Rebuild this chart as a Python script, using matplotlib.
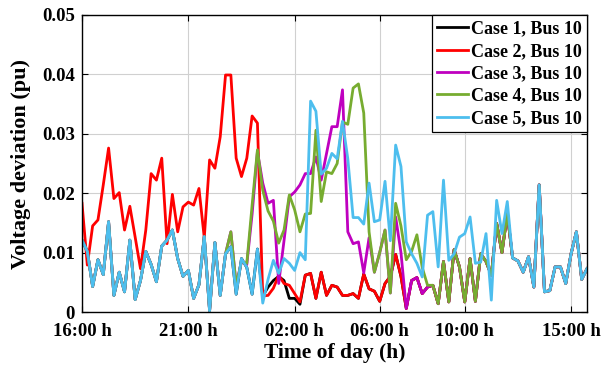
import matplotlib
matplotlib.use("Agg")
import matplotlib.pyplot as plt
import numpy as np

plt.rcParams['font.family'] = ['Liberation Serif', 'DejaVu Serif']
plt.rcParams['font.weight'] = 'bold'

# 15 min steps from 16:00 h to 15:45 h next day (hours after 16:00)
hours = np.arange(96) * 0.25

tick_hours = [0, 5, 10, 14, 18, 23]
tick_labels = ['16:00 h', '21:00 h', '02:00 h', '06:00 h', '10:00 h', '15:00 h']

# Case 5 runs over the whole day, the other cases share its values outside their own windows
case5 = [0.0121, 0.0102, 0.0043, 0.0088, 0.0063, 0.0152, 0.0028, 0.0067, 0.0034, 0.0121,
         0.0021, 0.0053, 0.0102, 0.0080, 0.0051, 0.0111, 0.0121, 0.0138, 0.0090, 0.0060,
         0.0070, 0.0023, 0.0046, 0.0127, 0.0002, 0.0117, 0.0028, 0.0098, 0.0110, 0.0030,
         0.0090, 0.0075, 0.0030, 0.0106, 0.0015, 0.0055, 0.0087, 0.0065, 0.0090, 0.0082,
         0.0070, 0.0100, 0.0088, 0.0355, 0.0338, 0.0232, 0.0242, 0.0267, 0.0258, 0.0321,
         0.0258, 0.0159, 0.0159, 0.0148, 0.0217, 0.0152, 0.0155, 0.0220, 0.0120, 0.0281,
         0.0245, 0.0118, 0.0098, 0.0082, 0.0059, 0.0163, 0.0169, 0.0076, 0.0222, 0.0087,
         0.0098, 0.0126, 0.0132, 0.0160, 0.0082, 0.0084, 0.0132, 0.0020, 0.0188, 0.0132,
         0.0186, 0.0091, 0.0086, 0.0067, 0.0093, 0.0042, 0.0214, 0.0034, 0.0036, 0.0076,
         0.0076, 0.0048, 0.0098, 0.0135, 0.0055, 0.0073]

# Case 4: 22:45 h .. 11:00 h (index 27..80)
case4_mid = [0.0098, 0.0135, 0.0045, 0.0085, 0.0082, 0.0180, 0.0273, 0.0205, 0.0170, 0.0153,
             0.0116, 0.0138, 0.0197, 0.0172, 0.0135, 0.0165, 0.0166, 0.0306, 0.0186, 0.0236,
             0.0233, 0.0250, 0.0320, 0.0316, 0.0377, 0.0384, 0.0335, 0.0135, 0.0067, 0.0100,
             0.0138, 0.0032, 0.0183, 0.0145, 0.0088, 0.0102, 0.0130, 0.0075, 0.0045, 0.0045,
             0.0014, 0.0085, 0.0017, 0.0105, 0.0076, 0.0017, 0.0090, 0.0018, 0.0098, 0.0085,
             0.0062, 0.0149, 0.0100, 0.0166]
case4 = case5[:27] + case4_mid + case5[81:]

# Case 3: index 31..54 and 59..65
case3_a = [0.0080, 0.0165, 0.0270, 0.0217, 0.0183, 0.0188, 0.0048, 0.0120, 0.0194, 0.0202,
           0.0214, 0.0233, 0.0233, 0.0261, 0.0222, 0.0267, 0.0312, 0.0312, 0.0374, 0.0135,
           0.0115, 0.0118, 0.0066, 0.0125]
case3_b = [0.0160, 0.0100, 0.0006, 0.0053, 0.0058, 0.0031, 0.0042]
case3 = case4[:31] + case3_a + case4[55:59] + case3_b + case4[66:]

# Case 2: index 0..60
case2_own = [0.0183, 0.0079, 0.0145, 0.0155, 0.0214, 0.0276, 0.0191, 0.0201, 0.0138, 0.0178,
             0.0126, 0.0073, 0.0138, 0.0233, 0.0222, 0.0259, 0.0115, 0.0198, 0.0135, 0.0177,
             0.0185, 0.0180, 0.0208, 0.0125, 0.0256, 0.0242, 0.0295, 0.0399, 0.0399, 0.0259,
             0.0228, 0.0259, 0.0330, 0.0318, 0.0027, 0.0028, 0.0040, 0.0062, 0.0048, 0.0045,
             0.0031, 0.0017, 0.0062, 0.0065, 0.0023, 0.0067, 0.0028, 0.0045, 0.0042, 0.0028,
             0.0028, 0.0031, 0.0023, 0.0064, 0.0039, 0.0035, 0.0018, 0.0048, 0.0060, 0.0097,
             0.0060]
case2 = case2_own + case3[61:]

# Case 1: index 34..41
case1_own = [0.0027, 0.0042, 0.0053, 0.0060, 0.0053, 0.0023, 0.0023, 0.0013]
case1 = case5[:34] + case1_own + case2[42:]

series = [case1, case2, case3, case4, case5]
names = ['Case 1, Bus 10', 'Case 2, Bus 10', 'Case 3, Bus 10', 'Case 4, Bus 10', 'Case 5, Bus 10']
colors = ['#000000', '#ff0000', '#bf00bf', '#77ac30', '#4dbeee']

fig = plt.figure(figsize=(6.03, 3.73), dpi=100)
ax = fig.add_axes([0.136, 0.1635, 0.8375, 0.7963])

for vals, name, c in zip(series, names, colors):
    ax.plot(hours, vals, color=c, lw=2, label=name)

ax.set_xlim(0, 23.75)
ax.set_ylim(0, 0.05)
ax.set_xticks(tick_hours)
ax.set_xticklabels(tick_labels)
ax.set_yticks([0, 0.01, 0.02, 0.03, 0.04, 0.05])
ax.set_yticklabels(['0', '0.01', '0.02', '0.03', '0.04', '0.05'])
ax.tick_params(direction='in', top=True, right=True, labelsize=13.5, length=4, width=0.8)
ax.tick_params(axis='x', pad=8)
ax.tick_params(axis='y', pad=5)
for lab in ax.get_xticklabels() + ax.get_yticklabels():
    lab.set_fontweight('bold')
ax.grid(True, color='#d0d0d0', lw=0.8)
ax.set_axisbelow(True)
for sp in ax.spines.values():
    sp.set_linewidth(1.0)

ax.set_xlabel('Time of day (h)', fontsize=15.5, fontweight='bold', labelpad=2)
ax.set_ylabel('Voltage deviation (pu)', fontsize=16, fontweight='bold', labelpad=8)

leg = ax.legend(loc='upper right', prop={'weight': 'bold', 'size': 13},
                fancybox=False, framealpha=1, edgecolor='black', borderaxespad=0,
                handlelength=1.7, handletextpad=0.15, labelspacing=0.3, borderpad=0.3)
leg.get_frame().set_linewidth(0.9)

plt.savefig('out.png', dpi=100)
